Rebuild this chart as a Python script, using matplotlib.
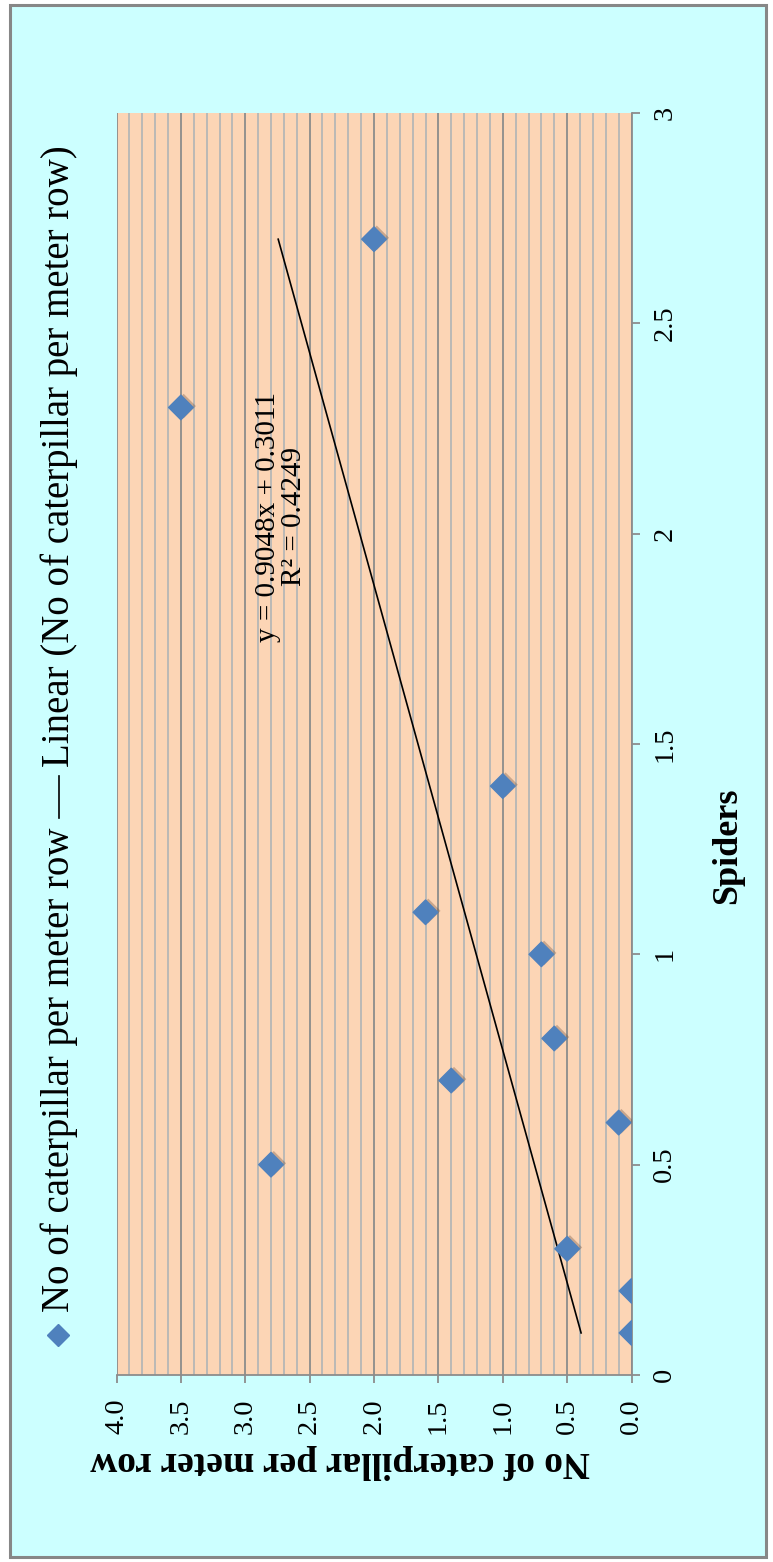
import matplotlib
matplotlib.use('Agg')
import matplotlib.pyplot as plt
import matplotlib.patheffects as pe
from matplotlib.lines import Line2D
from matplotlib.patches import Rectangle
import numpy as np

plt.rcParams.update({
    "font.family": ["Liberation Serif", "DejaVu Serif"],
})

# field counts (per sampling row)
spiders = [0.1, 0.2, 0.3, 0.5, 0.6, 0.7, 0.8, 1.0, 1.1, 1.4, 2.3, 2.7]
caterpillars = [0.0, 0.0, 0.5, 2.8, 0.1, 1.4, 0.6, 0.7, 1.6, 1.0, 3.5, 2.0]

# linear trendline as reported
slope = 0.9048
intercept = 0.3011
r_squared = 0.4249

spider_ticks = [0, 0.5, 1, 1.5, 2, 2.5, 3]
spider_labels = ['0', '0.5', '1', '1.5', '2', '2.5', '3']
cat_ticks = [0.0, 0.5, 1.0, 1.5, 2.0, 2.5, 3.0, 3.5, 4.0]
cat_labels = ['0.0', '0.5', '1.0', '1.5', '2.0', '2.5', '3.0', '3.5', '4.0']

series_name = 'No of caterpillar per meter row'
trend_name = 'Linear (No of caterpillar per meter row)'

blue = '#4f81bd'
grid_major = '#8c8c8c'
grid_minor = '#b6b6b6'

W, H = 773, 1562
fig = plt.figure(figsize=(W / 100, H / 100), dpi=100)
fig.patch.set_facecolor('white')


def px(x, y):
    # pixel position from the top-left corner -> figure fraction
    return x / W, 1 - y / H


# chart area with grey frame
frame = Rectangle(px(9.5, 1557), (766 - 9.5) / W, (1557 - 4.5) / H,
                  transform=fig.transFigure, facecolor='#ccffff',
                  edgecolor='#878787', lw=2.2, zorder=-1)
fig.patches.append(frame)

# the chart is turned on its side: spiders run upwards, caterpillars to the left
ax = fig.add_axes([116.5 / W, 1 - 1375 / H, 515 / W, 1262 / H])
ax.set_facecolor('#fcd5b5')
ax.set_xlim(4, 0)
ax.set_ylim(0, 3)

ax.set_xticks(cat_ticks, cat_labels)
ax.set_xticks(np.arange(0, 4.01, 0.1), minor=True)
ax.grid(which='minor', axis='x', color=grid_minor, lw=1.3)
ax.grid(which='major', axis='x', color=grid_major, lw=1.3)
ax.set_axisbelow(True)

for s in ['top', 'left']:
    ax.spines[s].set_visible(False)
for s in ['right', 'bottom']:
    ax.spines[s].set_color(grid_major)
    ax.spines[s].set_linewidth(1.3)

ax.yaxis.tick_right()
ax.set_yticks(spider_ticks, spider_labels)
ax.tick_params(which='minor', length=0)
ax.tick_params(axis='y', which='major', direction='out', length=6, width=1.3,
               color=grid_major, pad=9, labelsize=20.5, labelrotation=90)
ax.tick_params(axis='x', which='major', direction='out', length=6, width=1.3,
               color=grid_major, pad=11, labelsize=20.5, labelrotation=90)
for lab in ax.get_yticklabels():
    lab.set_va('center')

shadow = [pe.SimplePatchShadow(offset=(2, 1), shadow_rgbFace='#6b5040', alpha=0.35),
          pe.Normal()]
ax.scatter(caterpillars, spiders, marker='D', s=12.5 ** 2, color=blue,
           zorder=3, path_effects=shadow)

xs = np.array([min(spiders), max(spiders)])
ax.plot(slope * xs + intercept, xs, color='black', lw=1.2, zorder=2)

ax.text(2.72, 2.04, f'y = {slope}x + {intercept}\nR² = {r_squared}',
        rotation=90, ha='center', va='center', multialignment='center',
        fontsize=21, linespacing=1.0)

# axis titles
fig.text(*px(728, 846), 'Spiders', rotation=90, ha='center', va='center',
         fontsize=26, fontweight='bold')
fig.text(*px(340, 1462), series_name, rotation=180, ha='center', va='center',
         fontsize=27, fontweight='bold')

# legend, written along the left edge
fig.add_artist(Line2D([58.5 / W], [1 - 1335 / H], marker='D', ms=11.5,
                      color=blue, transform=fig.transFigure))
t1 = fig.text(*px(59, 1312), series_name, rotation=90, ha='center',
              va='bottom', fontsize=28)
fig.canvas.draw()
bb = t1.get_window_extent()
y0 = bb.y1 + 10
dash_len = 42
fig.add_artist(Line2D([59 / W, 59 / W], [y0 / H, (y0 + dash_len) / H],
                      color='black', lw=1.2, transform=fig.transFigure))
fig.text(59 / W, (y0 + dash_len + 9) / H, trend_name, rotation=90,
         ha='center', va='bottom', fontsize=28)

fig.savefig('out.png', dpi=100)
